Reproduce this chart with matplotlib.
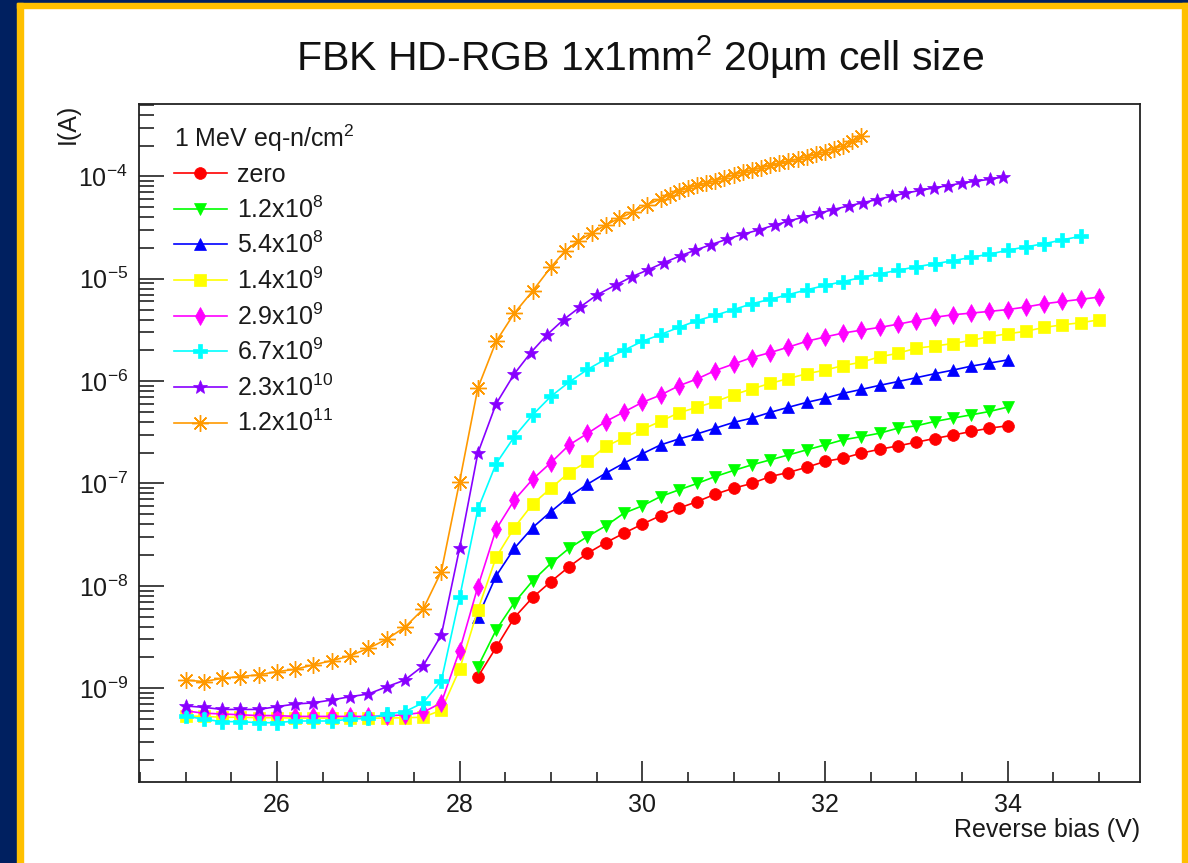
import matplotlib
matplotlib.use("Agg")
import matplotlib.pyplot as plt
from matplotlib.patches import Rectangle
from matplotlib.ticker import FixedLocator, MultipleLocator, LogLocator, LogFormatterSciNotation, NullFormatter

plt.rcParams['font.family'] = ['Liberation Sans', 'DejaVu Sans']
plt.rcParams['mathtext.fontset'] = 'custom'
plt.rcParams['mathtext.rm'] = 'Liberation Sans'
plt.rcParams['mathtext.it'] = 'Liberation Sans:italic'
plt.rcParams['mathtext.bf'] = 'Liberation Sans:bold'
plt.rcParams['mathtext.sf'] = 'Liberation Sans'

# reverse bias sweep (V)
bias_full = [25.0, 25.2, 25.4, 25.6, 25.8, 26.0, 26.2, 26.4, 26.6, 26.8,
             27.0, 27.2, 27.4, 27.6, 27.8, 28.0, 28.2, 28.4, 28.6, 28.8,
             29.0, 29.2, 29.4, 29.6, 29.8, 30.0, 30.2, 30.4, 30.6, 30.8,
             31.0, 31.2, 31.4, 31.6, 31.8, 32.0, 32.2, 32.4, 32.6, 32.8,
             33.0, 33.2, 33.4, 33.6, 33.8, 34.0, 34.2, 34.4, 34.6, 34.8, 35.0]

bias_zero = bias_full[16:46]     # 28.2 .. 34.0
bias_12e8 = bias_full[16:46]
bias_54e8 = bias_full[16:46]
bias_14e9 = bias_full
bias_29e9 = bias_full
bias_67e9 = bias_full[:50]       # 25.0 .. 34.8
# the two highest fluences are sampled more densely above breakdown
bias_23e10 = bias_full[:19] + [28.78, 28.96, 29.14, 29.32, 29.51, 29.71, 29.89, 30.06, 30.24,
                               30.42, 30.58, 30.75, 30.93, 31.10, 31.28, 31.45, 31.60, 31.76,
                               31.93, 32.09, 32.26, 32.42, 32.57, 32.73, 32.88, 33.04, 33.19,
                               33.35, 33.50, 33.64, 33.81, 33.95]
bias_12e11 = bias_full[:21] + [29.15, 29.3, 29.45, 29.6, 29.75, 29.9, 30.05, 30.2, 30.3,
                               30.4, 30.5, 30.6, 30.7, 30.8, 30.9, 31.0, 31.1, 31.2, 31.3,
                               31.4, 31.5, 31.6, 31.7, 31.8, 31.9, 32.0, 32.1, 32.2, 32.3, 32.4]

# current (A)
i_zero = [1.29e-9, 2.5e-9, 4.9e-9, 7.7e-9, 1.1e-8, 1.54e-8, 2.08e-8, 2.64e-8, 3.27e-8, 4.0e-8,
          4.85e-8, 5.73e-8, 6.65e-8, 7.86e-8, 9.0e-8, 1.0e-7, 1.17e-7, 1.28e-7, 1.44e-7, 1.64e-7,
          1.77e-7, 1.98e-7, 2.16e-7, 2.33e-7, 2.53e-7, 2.75e-7, 2.97e-7, 3.22e-7, 3.47e-7, 3.66e-7]
i_12e8 = [1.62e-9, 3.7e-9, 6.85e-9, 1.12e-8, 1.66e-8, 2.33e-8, 3.03e-8, 3.85e-8, 5.13e-8, 6.04e-8,
          7.45e-8, 8.65e-8, 1.0e-7, 1.17e-7, 1.34e-7, 1.52e-7, 1.7e-7, 1.9e-7, 2.13e-7, 2.38e-7,
          2.67e-7, 2.87e-7, 3.1e-7, 3.47e-7, 3.66e-7, 4.03e-7, 4.35e-7, 4.68e-7, 5.05e-7, 5.57e-7]
i_54e8 = [4.95e-9, 1.25e-8, 2.33e-8, 3.71e-8, 5.31e-8, 7.45e-8, 9.84e-8, 1.26e-7, 1.58e-7, 1.95e-7,
          2.38e-7, 2.72e-7, 3.05e-7, 3.47e-7, 3.95e-7, 4.35e-7, 4.95e-7, 5.55e-7, 6.2e-7, 6.8e-7,
          7.6e-7, 8.3e-7, 9.1e-7, 9.9e-7, 1.08e-6, 1.18e-6, 1.28e-6, 1.4e-6, 1.5e-6, 1.61e-6]
i_14e9 = [5.35e-10, 5.3e-10, 5.2e-10, 5.2e-10, 5.15e-10, 5.15e-10, 5.1e-10, 5.1e-10, 5.1e-10, 5.1e-10,
          5.1e-10, 5.1e-10, 5.15e-10, 5.2e-10, 6.1e-10, 1.53e-9, 5.81e-9, 1.9e-8, 3.71e-8, 6.3e-8,
          9.0e-8, 1.28e-7, 1.64e-7, 2.3e-7, 2.8e-7, 3.37e-7, 4.05e-7, 4.9e-7, 5.55e-7, 6.3e-7,
          7.35e-7, 8.4e-7, 9.5e-7, 1.06e-6, 1.18e-6, 1.28e-6, 1.42e-6, 1.53e-6, 1.73e-6, 1.87e-6,
          2.1e-6, 2.2e-6, 2.33e-6, 2.5e-6, 2.72e-6, 2.9e-6, 3.07e-6, 3.35e-6, 3.55e-6, 3.72e-6, 3.97e-6]
i_29e9 = [6.0e-10, 5.7e-10, 5.6e-10, 5.5e-10, 5.4e-10, 5.4e-10, 5.3e-10, 5.3e-10, 5.3e-10, 5.3e-10,
          5.3e-10, 5.35e-10, 5.5e-10, 5.8e-10, 7.2e-10, 2.33e-9, 9.8e-9, 3.57e-8, 6.9e-8, 1.1e-7,
          1.6e-7, 2.38e-7, 3.08e-7, 4.03e-7, 5.0e-7, 6.2e-7, 7.3e-7, 9.0e-7, 1.05e-6, 1.27e-6,
          1.47e-6, 1.7e-6, 1.9e-6, 2.15e-6, 2.45e-6, 2.7e-6, 2.95e-6, 3.15e-6, 3.35e-6, 3.6e-6,
          3.9e-6, 4.2e-6, 4.45e-6, 4.62e-6, 4.8e-6, 5.0e-6, 5.3e-6, 5.7e-6, 6.0e-6, 6.3e-6, 6.62e-6]
i_67e9 = [5.35e-10, 4.97e-10, 4.71e-10, 4.71e-10, 4.6e-10, 4.6e-10, 4.78e-10, 4.78e-10, 4.78e-10, 4.97e-10,
          5.08e-10, 5.6e-10, 5.89e-10, 7.2e-10, 1.18e-9, 7.7e-9, 5.6e-8, 1.56e-7, 2.87e-7, 4.68e-7,
          7.1e-7, 9.8e-7, 1.3e-6, 1.64e-6, 2.0e-6, 2.45e-6, 2.85e-6, 3.35e-6, 3.9e-6, 4.4e-6,
          5.0e-6, 5.7e-6, 6.3e-6, 7.0e-6, 7.8e-6, 8.6e-6, 9.4e-6, 1.03e-5, 1.12e-5, 1.21e-5,
          1.31e-5, 1.4e-5, 1.5e-5, 1.62e-5, 1.74e-5, 1.9e-5, 2.05e-5, 2.2e-5, 2.4e-5, 2.6e-5]
i_23e10 = [6.7e-10, 6.5e-10, 6.2e-10, 6.2e-10, 6.2e-10, 6.6e-10, 7.0e-10, 7.2e-10, 7.67e-10, 8.26e-10,
           8.77e-10, 1.03e-9, 1.2e-9, 1.65e-9, 3.3e-9, 2.33e-8, 1.98e-7, 6.0e-7, 1.18e-6,
           1.9e-6, 2.85e-6, 4.0e-6, 5.3e-6, 7.0e-6, 8.7e-6, 1.05e-5, 1.22e-5, 1.44e-5,
           1.68e-5, 1.9e-5, 2.15e-5, 2.44e-5, 2.72e-5, 3.01e-5, 3.35e-5, 3.65e-5, 4.0e-5,
           4.35e-5, 4.75e-5, 5.15e-5, 5.55e-5, 5.95e-5, 6.4e-5, 6.85e-5, 7.3e-5, 7.7e-5,
           8.15e-5, 8.6e-5, 8.95e-5, 9.4e-5, 9.86e-5]
i_12e11 = [1.2e-9, 1.16e-9, 1.25e-9, 1.3e-9, 1.35e-9, 1.45e-9, 1.53e-9, 1.69e-9, 1.86e-9, 2.07e-9,
           2.45e-9, 3.0e-9, 3.94e-9, 5.9e-9, 1.38e-8, 1.04e-7, 8.55e-7, 2.44e-6, 4.62e-6, 7.6e-6,
           1.3e-5, 1.85e-5, 2.35e-5, 2.8e-5, 3.35e-5, 3.9e-5, 4.5e-5, 5.3e-5, 6.0e-5, 6.6e-5,
           7.2e-5, 7.7e-5, 8.2e-5, 8.6e-5, 9.1e-5, 9.7e-5, 1.03e-4, 1.1e-4, 1.16e-4, 1.22e-4,
           1.28e-4, 1.34e-4, 1.41e-4, 1.48e-4, 1.56e-4, 1.64e-4, 1.75e-4, 1.87e-4, 2.0e-4, 2.2e-4, 2.46e-4]

labels = ['zero', r'1.2x10$^{8}$', r'5.4x10$^{8}$', r'1.4x10$^{9}$', r'2.9x10$^{9}$',
          r'6.7x10$^{9}$', r'2.3x10$^{10}$', r'1.2x10$^{11}$']

x_ticks = [26, 28, 30, 32, 34]
y_ticks = [1e-9, 1e-8, 1e-7, 1e-6, 1e-5, 1e-4]

series = [
    (bias_zero, i_zero, '#ff0000', 'o', 8.5, 0.5),
    (bias_12e8, i_12e8, '#00ff00', 'v', 9, 0.5),
    (bias_54e8, i_54e8, '#0000ff', '^', 9, 0.5),
    (bias_14e9, i_14e9, '#ffff00', 's', 8.5, 0.5),
    (bias_29e9, i_29e9, '#ff00ff', 'd', 9, 0.5),
    (bias_67e9, i_67e9, '#00ffff', 'P', 10, 0.5),
    (bias_23e10, i_23e10, '#8800ff', '*', 10, 0.5),
    (bias_12e11, i_12e11, '#ff9900', (8, 2, 0), 12, 1.0),
]

W, H = 1188, 863
fig = plt.figure(figsize=(W / 100, H / 100), dpi=100)
fig.patch.set_facecolor('white')

navy = '#002060'
gold = '#ffc000'
fig.add_artist(Rectangle((0, 0), 17 / W, 1, transform=fig.transFigure, color=navy, zorder=-5))
fig.add_artist(Rectangle((0, 1 - 3 / H), 1, 3 / H, transform=fig.transFigure, color=navy, zorder=-5))
fig.add_artist(Rectangle((17 / W, 0), 6 / W, 1 - 3 / H, transform=fig.transFigure, color=gold, zorder=-4))
fig.add_artist(Rectangle((17 / W, 1 - 8 / H), 1, 5 / H, transform=fig.transFigure, color=gold, zorder=-4))
fig.add_artist(Rectangle((1182 / W, 0), 6 / W, 1 - 3 / H, transform=fig.transFigure, color=gold, zorder=-4))

ax = fig.add_axes([139 / W, 1 - 781.7 / H, (1140 - 139) / W, (781.7 - 104) / H])

for (x, y, c, m, ms, mew), lab in zip(series, labels):
    ax.plot(x, y, color=c, marker=m, markersize=ms, markeredgewidth=mew,
            markeredgecolor=c, markerfacecolor=c, linewidth=1.2, label=lab)

ax.set_yscale('log')
ax.set_xlim(24.49, 35.45)
ax.set_ylim(1.22e-10, 5.1e-4)

ax.xaxis.set_major_locator(FixedLocator(x_ticks))
ax.xaxis.set_minor_locator(MultipleLocator(0.5))
ax.yaxis.set_major_locator(FixedLocator(y_ticks))
ax.yaxis.set_minor_locator(LogLocator(base=10, subs=range(2, 10), numticks=20))
ax.yaxis.set_major_formatter(LogFormatterSciNotation())
ax.yaxis.set_minor_formatter(NullFormatter())

ax.tick_params(which='both', direction='in', top=False, right=False, width=1.2, color='#222222',
               labelsize=18, labelcolor='#1a1a1a')
ax.tick_params(axis='x', which='major', length=15, pad=8)
ax.tick_params(axis='x', which='minor', length=7)
ax.tick_params(axis='y', which='major', length=18, pad=8)
ax.tick_params(axis='y', which='minor', length=10.5)
for s in ax.spines.values():
    s.set_linewidth(1.3)
    s.set_color('#222222')

ax.set_xlabel('Reverse bias (V)', fontsize=18, color='#1a1a1a')
ax.xaxis.set_label_coords(1.0, -0.054)
ax.xaxis.label.set_horizontalalignment('right')
ax.set_ylabel('I(A)', fontsize=18, color='#1a1a1a')
ax.yaxis.set_label_coords(-0.059, 1.0)
ax.yaxis.label.set_horizontalalignment('right')

leg = ax.legend(loc='upper left', bbox_to_anchor=(0.035, 0.973), frameon=False,
                title=r'1 MeV eq-n/cm$^{2}$', title_fontsize=18, fontsize=18,
                alignment='left', numpoints=1, handlelength=2.1, handletextpad=0.4,
                labelspacing=0.37, borderpad=0, borderaxespad=0)
for t in leg.get_texts():
    t.set_color('#1a1a1a')
leg.get_title().set_color('#1a1a1a')

fig.text(640 / W, 1 - 57 / H, r'FBK HD-RGB 1x1mm$^{2}$ 20µm cell size', ha='center', va='center',
         fontsize=29.5, color='#111111')

fig.savefig('out.png', dpi=100, facecolor=fig.get_facecolor())
